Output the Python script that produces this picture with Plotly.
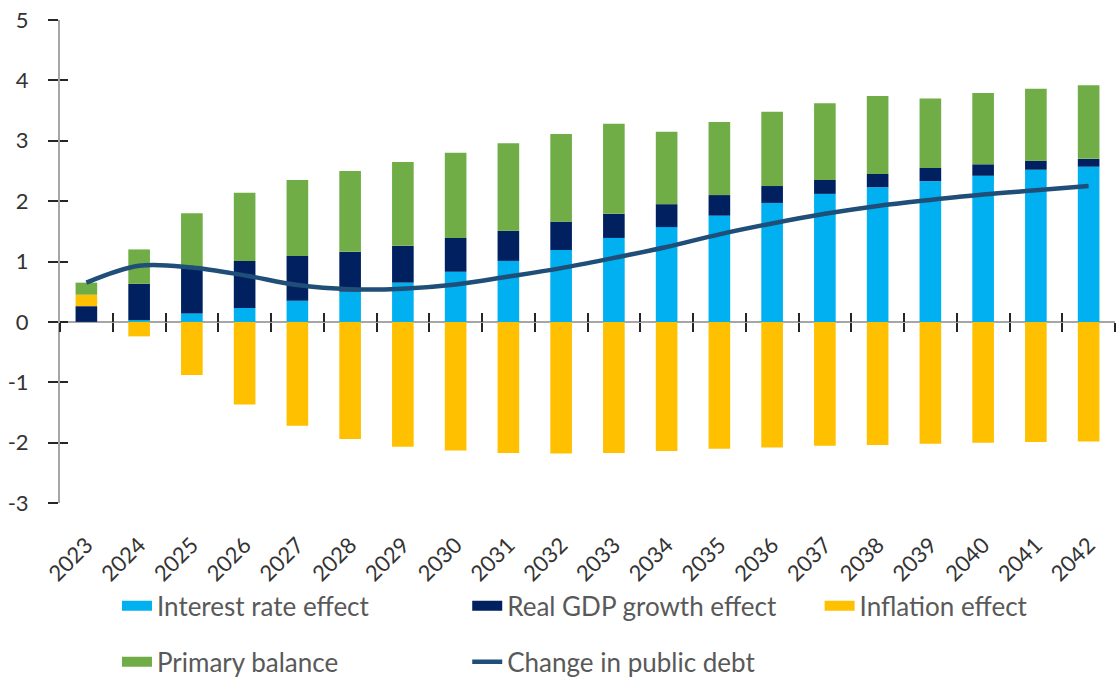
import plotly.graph_objects as go

years = [str(y) for y in range(2023, 2043)]
interest_rate = [0.00, 0.03, 0.14, 0.23, 0.35, 0.50, 0.65, 0.83, 1.01, 1.19,
                 1.39, 1.57, 1.76, 1.97, 2.12, 2.23, 2.33, 2.42, 2.52, 2.57]
real_gdp = [0.26, 0.60, 0.77, 0.78, 0.74, 0.66, 0.61, 0.56, 0.50, 0.47,
            0.40, 0.38, 0.34, 0.28, 0.23, 0.22, 0.22, 0.19, 0.15, 0.13]
inflation = [0.19, -0.24, -0.88, -1.37, -1.72, -1.94, -2.07, -2.13, -2.17, -2.18,
             -2.17, -2.14, -2.10, -2.08, -2.05, -2.04, -2.02, -2.00, -1.99, -1.98]
primary_balance = [0.20, 0.57, 0.89, 1.13, 1.26, 1.34, 1.39, 1.41, 1.45, 1.45,
                   1.49, 1.20, 1.21, 1.23, 1.27, 1.29, 1.15, 1.18, 1.19, 1.22]
public_debt_change = [0.65, 0.93, 0.90, 0.77, 0.61, 0.54, 0.55, 0.62, 0.75, 0.89,
                      1.06, 1.24, 1.45, 1.63, 1.79, 1.92, 2.02, 2.11, 2.18, 2.25]
y_ticks = [-3, -2, -1, 0, 1, 2, 3, 4, 5]
y_tick_labels = ["-3", "-2", "-1", "0", "1", "2", "3", "4", "5"]

C_INT = "#00B0F0"
C_GDP = "#002060"
C_INF = "#FFC000"
C_PB = "#70AD47"
C_LINE = "#1F4E79"
FONT = "Lato"
TXT = "#333333"
LEG_TXT = "#595959"

fig = go.Figure()
bar_w = 0.41
for name, vals, col in [("Interest rate effect", interest_rate, C_INT),
                        ("Real GDP growth effect", real_gdp, C_GDP),
                        ("Inflation effect", inflation, C_INF),
                        ("Primary balance", primary_balance, C_PB)]:
    fig.add_trace(go.Bar(x=years, y=vals, name=name, marker_color=col,
                         marker_line_width=0, width=bar_w, showlegend=False))

fig.add_trace(go.Scatter(x=years, y=public_debt_change, name="Change in public debt",
                         mode="lines", line=dict(color=C_LINE, width=4.5, shape="spline", smoothing=1.0),
                         showlegend=False))

# legend entries, one legend box per entry (two rows of the original layout)
legend_items = [("Interest rate effect", C_INT, 16, "legend"),
                ("Real GDP growth effect", C_GDP, 16, "legend2"),
                ("Inflation effect", C_INF, 16, "legend3"),
                ("Primary balance", C_PB, 16, "legend4"),
                ("Change in public debt", C_LINE, 4.5, "legend5")]
for name, col, lw, lg in legend_items:
    fig.add_trace(go.Scatter(x=years, y=[None] * len(years), name=name, mode="lines",
                             line=dict(color=col, width=lw), legend=lg, hoverinfo="skip"))

# helper invisible traces for crossing tick marks
fig.add_trace(go.Scatter(x=years, y=[0] * len(years), xaxis="x2", yaxis="y2", mode="markers",
                         marker=dict(opacity=0), showlegend=False, hoverinfo="skip"))
fig.add_trace(go.Scatter(x=years, y=[0] * len(years), xaxis="x3", yaxis="y", mode="markers",
                         marker=dict(opacity=0), showlegend=False, hoverinfo="skip"))

zero_pos = 3 / 8


def leg(x, y):
    return dict(orientation="h", x=x, xanchor="left", y=y, yanchor="middle",
                font=dict(family=FONT, size=26, color=LEG_TXT),
                bgcolor="rgba(0,0,0,0)", itemwidth=30)


col_x = [0.054, 0.386, 0.720]
row_y = [-0.213, -0.329]

fig.update_layout(
    width=1119, height=677,
    margin=dict(l=60, r=4, t=20, b=174, autoexpand=False),
    paper_bgcolor="white", plot_bgcolor="white",
    barmode="relative",
    font=dict(family=FONT, size=20, color=TXT),
    xaxis=dict(range=[-0.5, 19.5], tickangle=-45, ticks="", showline=False, showgrid=False,
               zeroline=False, tickfont=dict(size=22, color=TXT), ticklabelstandoff=24),
    xaxis2=dict(overlaying="x", anchor="free", position=zero_pos, range=[-0.5, 19.5],
                tickson="boundaries", ticks="outside", ticklen=9, tickwidth=2, tickcolor="#262626",
                showticklabels=False, showline=False, showgrid=False, zeroline=False),
    xaxis3=dict(overlaying="x", anchor="free", position=zero_pos, range=[-0.5, 19.5],
                tickson="boundaries", ticks="inside", ticklen=9, tickwidth=2, tickcolor="#262626",
                showticklabels=False, showline=False, showgrid=False, zeroline=False),
    yaxis=dict(range=[-3, 5], tickvals=y_ticks, ticktext=y_tick_labels, ticks="outside",
               ticklen=10, tickwidth=2,
               tickcolor="#262626", showline=True, linecolor="#A6A6A6", linewidth=2,
               showgrid=False, zeroline=True, zerolinecolor="#A6A6A6", zerolinewidth=2,
               tickfont=dict(size=22, color=TXT), ticklabelstandoff=15),
    yaxis2=dict(overlaying="y", anchor="x", side="left", range=[-3, 5], tickvals=y_ticks,
                ticks="inside", ticklen=8, tickwidth=2, tickcolor="#262626",
                showticklabels=False, showline=False, showgrid=False, zeroline=False),
    legend=leg(col_x[0], row_y[0]),
    legend2=leg(col_x[1], row_y[0]),
    legend3=leg(col_x[2], row_y[0]),
    legend4=leg(col_x[0], row_y[1]),
    legend5=leg(col_x[1], row_y[1]),
)

fig.write_html("out.html")
